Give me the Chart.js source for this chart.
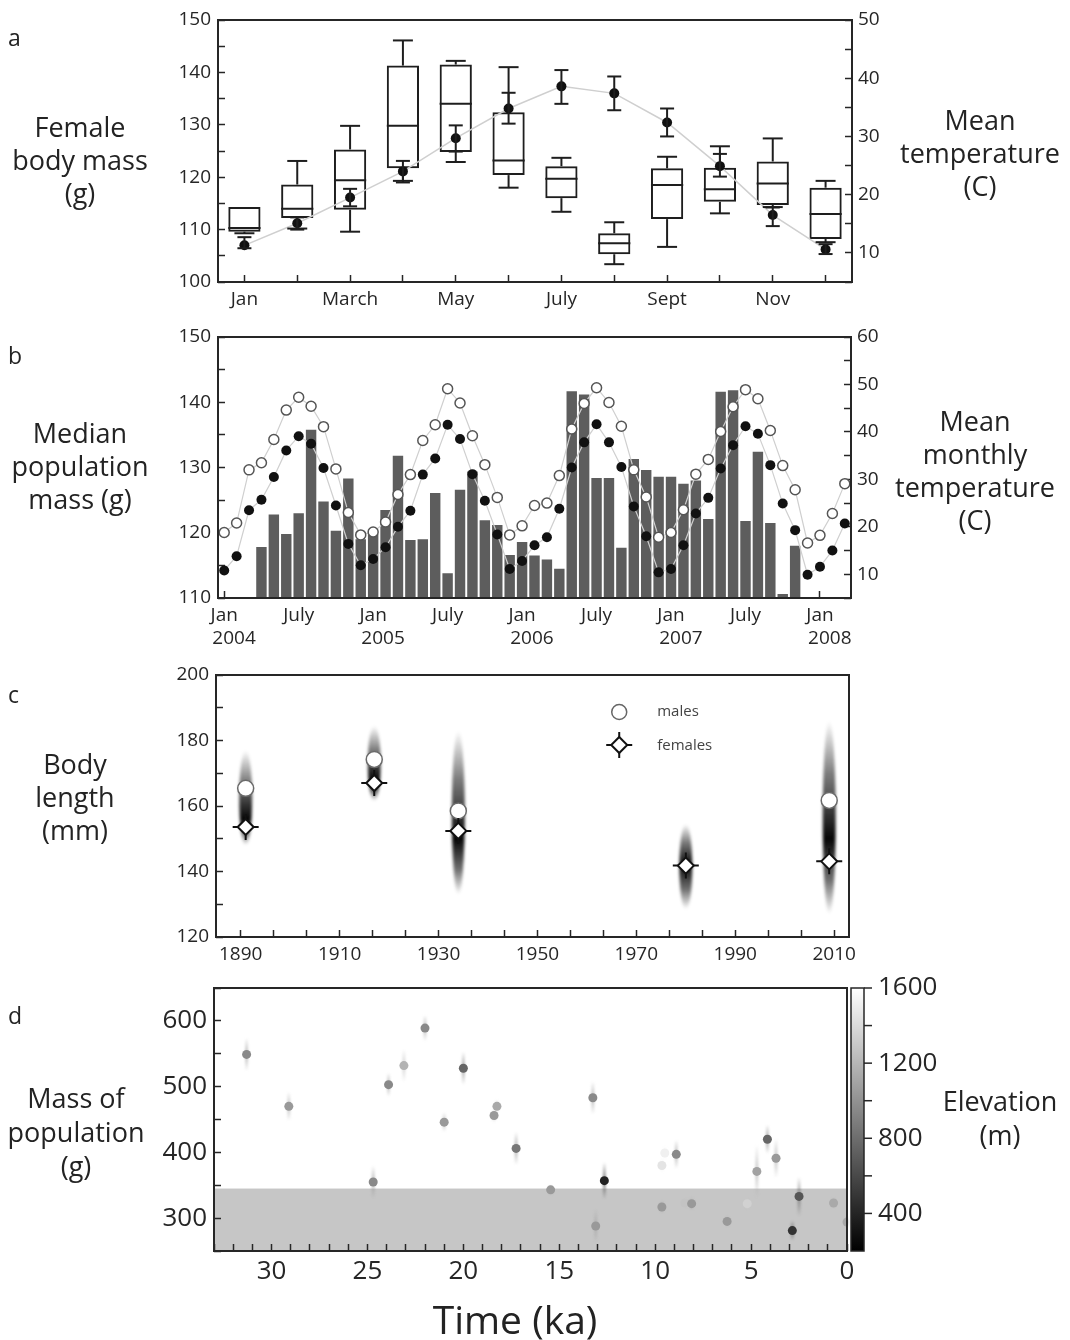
<!DOCTYPE html>
<html>
<head>
<meta charset="utf-8">
<script src="https://cdn.jsdelivr.net/npm/chart.js@4.4.1/dist/chart.umd.min.js"></script>
<style>
  body { margin:0; background:#fff; width:1070px; height:1340px; position:relative; overflow:hidden;
         font-family:'Open Sans', sans-serif; color:#232323; }
  canvas { position:absolute; left:0; }
  .lbl { position:absolute; text-align:center; font-size:27px; line-height:33px; transform:translateX(-50%); white-space:nowrap; }
  .letter { position:absolute; left:8px; font-size:23px; line-height:26px; }
  .big { font-size:39px; line-height:46px; }
</style>
</head>
<body>
<canvas id="ca" width="1070" height="320" style="top:0px"></canvas>
<canvas id="cb" width="1070" height="340" style="top:320px"></canvas>
<canvas id="cc" width="1070" height="310" style="top:660px"></canvas>
<canvas id="cd" width="1070" height="320" style="top:975px"></canvas>

<div class="letter" style="top:24px">a</div>
<div class="letter" style="top:342px">b</div>
<div class="letter" style="top:681px">c</div>
<div class="letter" style="top:1002px">d</div>

<div class="lbl" style="left:80px; top:110px">Female<br>body mass<br>(g)</div>
<div class="lbl" style="left:980px; top:103px">Mean<br>temperature<br>(C)</div>
<div class="lbl" style="left:80px; top:416px">Median<br>population<br>mass (g)</div>
<div class="lbl" style="left:975px; top:404px">Mean<br>monthly<br>temperature<br>(C)</div>
<div class="lbl" style="left:75px; top:747px">Body<br>length<br>(mm)</div>
<div class="lbl" style="left:76px; top:1081px; line-height:34px">Mass of<br>population<br>(g)</div>
<div class="lbl" style="left:1000px; top:1084px; line-height:34px">Elevation<br>(m)</div>
<div class="lbl big" style="left:515px; top:1296px">Time (ka)</div>

<script>
// ---------- Panel a: female body mass by month, with mean temperature ----------
const aMonths   = ['Jan','Feb','March','April','May','June','July','Aug','Sept','Oct','Nov','Dec'];
const aMassMin  = [109.3, 110.2, 109.6, 119.3, 122.9, 118.0, 113.4, 103.4, 106.7, 113.1, 114.3, 107.6];
const aMassQ1   = [109.6, 112.2, 113.8, 121.7, 124.8, 120.4, 116.0, 105.3, 112.0, 115.3, 114.7, 108.2];
const aMassMed  = [110.3, 114.0, 119.4, 129.8, 134.0, 123.2, 119.7, 107.4, 118.5, 117.7, 118.8, 113.0];
const aMassQ3   = [114.3, 118.6, 125.3, 141.3, 141.5, 132.4, 122.1, 109.3, 121.7, 121.8, 123.0, 118.0];
const aMassMax  = [114.3, 123.1, 129.8, 146.1, 142.2, 141.0, 123.7, 111.4, 123.9, 125.9, 127.4, 119.3];
const aTempMean = [11.3, 15.1, 19.5, 24.0, 29.7, 34.8, 38.6, 37.4, 32.4, 24.9, 16.5, 10.6];
const aTempLow  = [10.8, 14.0, 18.0, 22.1, 27.4, 32.2, 35.6, 34.5, 30.0, 23.1, 14.6, 9.8];
const aTempHigh = [12.7, 16.1, 21.0, 25.8, 31.9, 37.5, 41.4, 40.3, 34.8, 27.0, 17.8, 11.5];

// ---------- Panel b: monthly series Jan 2004 - Mar 2008 ----------
const bMonthNames = ['Jan','Feb','Mar','Apr','May','Jun','Jul','Aug','Sep','Oct','Nov','Dec'];
const bYears = [2004, 2005, 2006, 2007, 2008];
const bMonths = [];
bYears.forEach(yr => bMonthNames.forEach(m => { if (bMonths.length < 51) bMonths.push(m + ' ' + yr); }));
const bTickText = [['Jan','    2004'], 'July', ['Jan','    2005'], 'July', ['Jan','    2006'], 'July',
                   ['Jan','    2007'], 'July', ['Jan','    2008']];
const bMedianMass = [null, null, null, 117.8, 122.8, 119.8, 123.0, 135.8, 124.8, 120.3, 128.3, 119.0,
                     119.8, 123.5, 131.8, 118.9, 119.0, 126.1, 113.8, 126.6, 129.4, 121.9, 121.2, 116.6,
                     118.6, 116.5, 115.9, 114.5, 141.7, 141.2, 128.4, 128.4, 117.7, 131.3, 129.6, 128.6,
                     128.6, 127.5, 128.0, 122.1, 141.6, 141.85, 121.8, 132.4, 121.5, 110.6, 118.0,
                     null, null, null, null];
const bTempHigh = [18.8, 20.8, 32.0, 33.5, 38.4, 44.6, 47.3, 45.4, 41.1, 32.2, 23.0, 18.3,
                   18.9, 21.0, 26.8, 31.0, 38.2, 41.5, 49.1, 46.1, 39.2, 33.1, 26.2, 18.3,
                   20.2, 24.5, 25.0, 30.8, 40.6, 46.0, 49.3, 46.2, 41.2, 32.0, 26.3, 17.8,
                   18.8, 23.6, 31.1, 34.2, 40.1, 45.3, 48.9, 47.0, 40.3, 32.9, 27.8, 16.6,
                   18.2, 22.8, 29.1];
const bTempMean = [10.8, 13.8, 23.5, 25.7, 30.5, 36.1, 39.1, 37.5, 32.4, 24.5, 16.4, 11.9,
                   13.2, 15.7, 20.0, 23.4, 31.0, 34.4, 41.5, 38.5, 31.1, 25.5, 18.4, 11.1,
                   12.8, 16.1, 17.8, 23.8, 32.5, 37.8, 41.6, 37.8, 32.6, 24.3, 18.0, 10.4,
                   11.1, 16.1, 22.8, 26.1, 32.3, 37.2, 41.2, 39.6, 33.0, 24.9, 19.3, 9.9,
                   11.6, 15.0, 20.7];

// ---------- Panel c: body length of museum specimens ----------
const cYears       = [1891, 1917, 1934, 1980, 2009];
const cMales       = [165.4, 174.2, 158.5, null, 161.7];
const cFemales     = [153.6, 167.0, 152.4, 141.8, 143.1];
const cSpreadTop   = [177.0, 184.5, 183.0, 154.5, 186.0];
const cSpreadCore  = [156.0, 168.0, 150.0, 142.0, 150.0];
const cSpreadBottom= [148.0, 161.5, 133.0, 128.5, 127.0];
const cTickLabels  = ['1890','1910','1930','1950','1970','1990','2010'];

// ---------- Panel d: population mass through time, shaded by elevation ----------
const dKa     = [31.3, 29.1, 24.7, 23.9, 23.1, 22.0, 21.0, 20.0, 18.4, 18.25, 17.25, 15.45, 13.25, 12.65, 13.1,
                 9.65, 9.5, 8.9, 9.65, 8.45, 8.1, 6.25, 5.2, 4.7, 4.15, 3.7, 2.5, 2.85, 0.7, 0.0];
const dMass   = [549, 470, 355, 503, 532, 589, 446, 528, 456, 470, 406, 343, 483, 357, 288,
                 380, 399, 397, 317, 323, 322, 295, 322, 371, 420, 391, 333, 281, 323, 294];
const dElev   = [950, 1040, 950, 950, 1180, 950, 1040, 760, 1040, 1130, 850, 1040, 950, 390, 1040,
                 1450, 1520, 950, 1040, 1270, 1040, 1040, 1350, 1090, 760, 1040, 670, 480, 1130, 1130];
const dSpread = [25, 22, 25, 18, 25, 20, 15, 25, 10, 10, 25, 8, 25, 28, 25,
                 10, 10, 22, 10, 8, 10, 8, 8, 40, 22, 30, 30, 15, 8, 8];
const dBandTop = 345;

// ---------- shared styling ----------
const FONT = "'Open Sans', sans-serif";
const INK = '#262626';
Chart.defaults.font.family = FONT;
Chart.defaults.color = INK;

function pinAxis(size, horizontal) {
  return s => {
    if (horizontal) s.height = size; else s.width = size;
    s.paddingTop = 0; s.paddingBottom = 0; s.paddingLeft = 0; s.paddingRight = 0;
  };
}
function inwardTicks() {
  return { display: true, drawOnChartArea: false, drawTicks: true, tickLength: -7,
           tickColor: INK, tickWidth: 1.5, color: INK };
}
const quiet = { legend: { display: false }, tooltip: { enabled: false } };

const framePlugin = {
  id: 'frame',
  afterDatasetsDraw(chart) {
    const { ctx, chartArea: a } = chart;
    ctx.save();
    ctx.strokeStyle = INK; ctx.lineWidth = 2;
    ctx.strokeRect(a.left, a.top, a.right - a.left, a.bottom - a.top);
    ctx.restore();
  }
};

function seg(ctx, x1, y1, x2, y2) { ctx.beginPath(); ctx.moveTo(x1, y1); ctx.lineTo(x2, y2); ctx.stroke(); }

// whiskers, medians and temperature error bars for panel a
const boxPlugin = {
  id: 'boxWhiskers',
  afterDatasetsDraw(chart) {
    const { ctx, scales } = chart;
    const y = scales.y, yT = scales.yT;
    const boxes = chart.getDatasetMeta(1).data;
    ctx.save();
    ctx.strokeStyle = '#1e1e1e'; ctx.lineWidth = 2;
    boxes.forEach((bar, i) => {
      const px = bar.x, half = bar.width / 2, cap = half * 0.62;
      seg(ctx, px - half, y.getPixelForValue(aMassMed[i]), px + half, y.getPixelForValue(aMassMed[i]));
      const top = y.getPixelForValue(aMassMax[i]), q3 = y.getPixelForValue(aMassQ3[i]);
      const bot = y.getPixelForValue(aMassMin[i]), q1 = y.getPixelForValue(aMassQ1[i]);
      if (q3 - top > 1) { seg(ctx, px, q3, px, top); seg(ctx, px - cap, top, px + cap, top); }
      if (bot - q1 > 1) { seg(ctx, px, q1, px, bot); seg(ctx, px - cap, bot, px + cap, bot); }
      const hi = yT.getPixelForValue(aTempHigh[i]), lo = yT.getPixelForValue(aTempLow[i]);
      seg(ctx, px, hi, px, lo);
      seg(ctx, px - 7, hi, px + 7, hi);
      seg(ctx, px - 7, lo, px + 7, lo);
    });
    ctx.restore();
  }
};

new Chart(document.getElementById('ca'), {
  type: 'bar',
  data: {
    labels: aMonths,
    datasets: [
      { type: 'line', data: aTempMean, yAxisID: 'yT', borderColor: '#cfcfcf', borderWidth: 1.5,
        pointRadius: 5, pointBackgroundColor: '#111', pointBorderWidth: 0, order: 1 },
      { type: 'bar', data: aMassQ1.map((q, i) => [q, aMassQ3[i]]), yAxisID: 'y',
        backgroundColor: 'rgba(0,0,0,0)', borderColor: '#1e1e1e', borderWidth: 2, borderSkipped: false,
        barPercentage: 0.61, categoryPercentage: 1, order: 2 }
    ]
  },
  options: {
    responsive: false, animation: false, devicePixelRatio: 1,
    layout: { padding: { left: 158, right: 158, top: 20, bottom: 8 } },
    plugins: quiet,
    scales: {
      x: { offset: true, grid: { ...inwardTicks(), offset: false }, border: { display: false },
           ticks: { autoSkip: false, maxRotation: 0, padding: 13, font: { size: 19 },
                    callback: (v, i) => (i % 2 === 0 ? aMonths[i] : '') },
           afterFit: pinAxis(30, true) },
      y: { position: 'left', min: 100, max: 150, grid: inwardTicks(), border: { display: false },
           ticks: { stepSize: 5, autoSkip: false, padding: 14, font: { size: 19 }, callback: v => (v % 10 === 0 ? v : '') },
           afterFit: pinAxis(60) },
      yT: { position: 'right', min: 5, max: 50, grid: inwardTicks(), border: { display: false },
            ticks: { stepSize: 5, autoSkip: false, padding: 13, font: { size: 19 }, callback: v => (v % 10 === 0 ? v : '') },
            afterFit: pinAxis(60) }
    }
  },
  plugins: [framePlugin, boxPlugin]
});

new Chart(document.getElementById('cb'), {
  type: 'bar',
  data: {
    labels: bMonths,
    datasets: [
      { type: 'line', data: bTempHigh, yAxisID: 'yT', borderColor: '#cfcfcf', borderWidth: 1.2,
        pointRadius: 5, pointBackgroundColor: '#fff', pointBorderColor: '#555', pointBorderWidth: 1.5, order: 1 },
      { type: 'line', data: bTempMean, yAxisID: 'yT', borderColor: '#cfcfcf', borderWidth: 1.2,
        pointRadius: 5, pointBackgroundColor: '#111', pointBorderColor: '#111', pointBorderWidth: 0, order: 2 },
      { type: 'bar', data: bMedianMass, yAxisID: 'y', backgroundColor: '#5d5d5d', borderWidth: 0,
        barPercentage: 0.84, categoryPercentage: 1, order: 3 }
    ]
  },
  options: {
    responsive: false, animation: false, devicePixelRatio: 1,
    layout: { padding: { left: 158, right: 159, top: 17, bottom: 12 } },
    plugins: quiet,
    scales: {
      x: { offset: true, grid: { ...inwardTicks(), offset: false }, border: { display: false },
           ticks: { autoSkip: false, maxRotation: 0, padding: 13, font: { size: 19 }, lineHeight: 1.15,
                    callback: (v, i) => (i % 6 === 0 ? bTickText[i / 6] : null) },
           afterFit: pinAxis(50, true) },
      y: { position: 'left', min: 110, max: 150, grid: inwardTicks(), border: { display: false },
           ticks: { stepSize: 5, autoSkip: false, padding: 14, font: { size: 19 }, callback: v => (v % 10 === 0 ? v : '') },
           afterFit: pinAxis(60) },
      yT: { position: 'right', min: 5, max: 60, grid: inwardTicks(), border: { display: false },
            ticks: { stepSize: 5, autoSkip: false, padding: 13, font: { size: 19 }, callback: v => (v % 10 === 0 ? v : '') },
            afterFit: pinAxis(60) }
    }
  },
  plugins: [framePlugin]
});

// soft vertical spread behind each specimen group in panel c
const spreadPlugin = {
  id: 'spread',
  beforeDatasetsDraw(chart) {
    const { ctx, scales: { x, y } } = chart;
    ctx.save();
    ctx.filter = 'blur(1.5px)';
    cYears.forEach((yr, i) => {
      const px = x.getPixelForValue(yr);
      const t = y.getPixelForValue(cSpreadTop[i]);
      const b = y.getPixelForValue(cSpreadBottom[i]);
      const c = y.getPixelForValue(cSpreadCore[i]);
      const k = (c - t) / (b - t);
      const g = ctx.createLinearGradient(0, t, 0, b);
      g.addColorStop(0, 'rgba(15,15,15,0)');
      g.addColorStop(k * 0.45, 'rgba(15,15,15,0.55)');
      g.addColorStop(k, 'rgba(5,5,5,1)');
      g.addColorStop(k + (1 - k) * 0.55, 'rgba(15,15,15,0.6)');
      g.addColorStop(1, 'rgba(15,15,15,0)');
      ctx.fillStyle = g;
      ctx.beginPath();
      ctx.ellipse(px, (t + b) / 2, 6.5, (b - t) / 2, 0, 0, Math.PI * 2);
      ctx.fill();
    });
    ctx.restore();
  }
};

const legendC = {
  id: 'legendC',
  afterDraw(chart) {
    const { ctx, chartArea: a } = chart;
    const lx = a.left + 0.637 * (a.right - a.left);
    const y1 = a.top + 37, y2 = a.top + 70;
    ctx.save();
    ctx.lineWidth = 1.5; ctx.strokeStyle = '#666'; ctx.fillStyle = '#fff';
    ctx.beginPath(); ctx.arc(lx, y1, 7.5, 0, Math.PI * 2); ctx.fill(); ctx.stroke();
    ctx.strokeStyle = '#111'; ctx.lineWidth = 2;
    seg(ctx, lx - 13, y2, lx + 13, y2); seg(ctx, lx, y2 - 13, lx, y2 + 13);
    ctx.beginPath(); ctx.moveTo(lx, y2 - 8); ctx.lineTo(lx + 8, y2); ctx.lineTo(lx, y2 + 8); ctx.lineTo(lx - 8, y2);
    ctx.closePath(); ctx.fillStyle = '#fff'; ctx.fill(); ctx.stroke();
    ctx.fillStyle = '#444'; ctx.font = "15px 'Open Sans', sans-serif"; ctx.textBaseline = 'middle';
    ctx.fillText('males', lx + 38, y1);
    ctx.fillText('females', lx + 38, y2 + 1);
    ctx.restore();
  }
};

const cTickYears = [];
for (let v = 1890; v <= 2010.01; v += 20 / 3) cTickYears.push(v);

new Chart(document.getElementById('cc'), {
  type: 'scatter',
  data: {
    datasets: [
      { data: cYears.map((yr, i) => ({ x: yr, y: cMales[i] })), pointRadius: 8, pointBackgroundColor: '#fff',
        pointBorderColor: '#6a6a6a', pointBorderWidth: 1.5, order: 3 },
      { data: cYears.map((yr, i) => ({ x: yr, y: cFemales[i] })), pointStyle: 'cross', pointRadius: 13,
        pointBorderColor: '#111', pointBorderWidth: 2, order: 2 },
      { data: cYears.map((yr, i) => ({ x: yr, y: cFemales[i] })), pointStyle: 'rectRot', pointRadius: 8,
        pointBackgroundColor: '#fff', pointBorderColor: '#111', pointBorderWidth: 2, order: 1 }
    ]
  },
  options: {
    responsive: false, animation: false, devicePixelRatio: 1,
    layout: { padding: { left: 156, right: 221, top: 15, bottom: 5 } },
    plugins: quiet,
    scales: {
      x: { type: 'linear', min: 1885, max: 2013, grid: inwardTicks(), border: { display: false },
           afterBuildTicks: s => { s.ticks = cTickYears.map(v => ({ value: v })); },
           ticks: { padding: 13, font: { size: 19 }, autoSkip: false, maxRotation: 0,
                    callback: v => { const k = Math.round((v - 1890) / 20); return Math.abs(v - (1890 + 20 * k)) < 0.01 ? cTickLabels[k] : ''; } },
           afterFit: pinAxis(28, true) },
      y: { min: 120, max: 200, grid: inwardTicks(), border: { display: false },
           ticks: { stepSize: 10, autoSkip: false, padding: 14, font: { size: 19 }, callback: v => (v % 20 === 0 ? v : '') },
           afterFit: pinAxis(60) }
    }
  },
  plugins: [spreadPlugin, framePlugin, legendC]
});

// ---------- panel d helpers ----------
function grayFor(elev) {
  const g = Math.round(Math.max(0, Math.min(1, (elev - 200) / 1400)) * 255);
  return [g, g, g];
}
const bandPlugin = {
  id: 'band',
  beforeDraw(chart) {
    const { ctx, chartArea: a, scales: { y } } = chart;
    ctx.save();
    ctx.fillStyle = '#c6c6c6';
    const top = y.getPixelForValue(dBandTop);
    ctx.fillRect(a.left, top, a.right - a.left, a.bottom - top);
    ctx.restore();
  }
};
const pointSpread = {
  id: 'pointSpread',
  beforeDatasetsDraw(chart) {
    const { ctx, scales: { x, y } } = chart;
    ctx.save();
    ctx.filter = 'blur(1px)';
    dKa.forEach((ka, i) => {
      const px = x.getPixelForValue(ka);
      const t = y.getPixelForValue(dMass[i] + dSpread[i]);
      const b = y.getPixelForValue(dMass[i] - dSpread[i]);
      const [r, g, bl] = grayFor(dElev[i]);
      const gr = ctx.createLinearGradient(0, t, 0, b);
      gr.addColorStop(0, `rgba(${r},${g},${bl},0)`);
      gr.addColorStop(0.5, `rgba(${r},${g},${bl},0.6)`);
      gr.addColorStop(1, `rgba(${r},${g},${bl},0)`);
      ctx.fillStyle = gr;
      ctx.fillRect(px - 1.5, t, 3, b - t);
    });
    ctx.restore();
  }
};
const colorBar = {
  id: 'colorBar',
  afterDraw(chart) {
    const { ctx } = chart;
    const s = chart.scales.elev;
    const x0 = s.left + 4, w = 13;
    const top = s.getPixelForValue(s.max), bot = s.getPixelForValue(s.min);
    ctx.save();
    const g = ctx.createLinearGradient(0, bot, 0, top);
    g.addColorStop(0, '#000');
    g.addColorStop(1, '#fff');
    ctx.fillStyle = g;
    ctx.fillRect(x0, top, w, bot - top);
    ctx.strokeStyle = INK; ctx.lineWidth = 1.5;
    ctx.strokeRect(x0, top, w, bot - top);
    s.ticks.forEach(t => {
      if (t.value <= s.min) return;
      const py = s.getPixelForValue(t.value);
      seg(ctx, x0 + w, py, x0 + w + 8, py);
    });
    ctx.restore();
  }
};

new Chart(document.getElementById('cd'), {
  type: 'scatter',
  data: {
    datasets: [{
      data: dKa.map((ka, i) => ({ x: ka, y: dMass[i] })),
      pointRadius: 4.5, pointBorderWidth: 0, clip: 0,
      pointBackgroundColor: dElev.map(e => { const [r, g, b] = grayFor(e); return `rgb(${r},${g},${b})`; })
    }]
  },
  options: {
    responsive: false, animation: false, devicePixelRatio: 1,
    layout: { padding: { left: 154, right: 123, top: 13, bottom: 4 } },
    plugins: quiet,
    scales: {
      x: { type: 'linear', reverse: true, min: 0, max: 33, grid: inwardTicks(), border: { display: false },
           ticks: { stepSize: 1, autoSkip: false, maxRotation: 0, padding: 12, font: { size: 26 },
                    callback: v => (v % 5 === 0 ? v : '') },
           afterFit: pinAxis(40, true) },
      y: { position: 'left', min: 250, max: 650, grid: inwardTicks(), border: { display: false },
           ticks: { stepSize: 50, autoSkip: false, padding: 14, font: { size: 26 },
                    callback: v => (v % 100 === 0 && v >= 300 && v <= 600 ? v : '') },
           afterFit: pinAxis(60) },
      elev: { position: 'right', min: 200, max: 1600, grid: { display: false, drawTicks: false },
              border: { display: false },
              ticks: { stepSize: 200, autoSkip: false, padding: 31, font: { size: 26 }, callback: v => (v % 400 === 0 ? v : '') },
              afterFit: pinAxis(100) }
    }
  },
  plugins: [bandPlugin, pointSpread, framePlugin, colorBar]
});
</script>
</body>
</html>
